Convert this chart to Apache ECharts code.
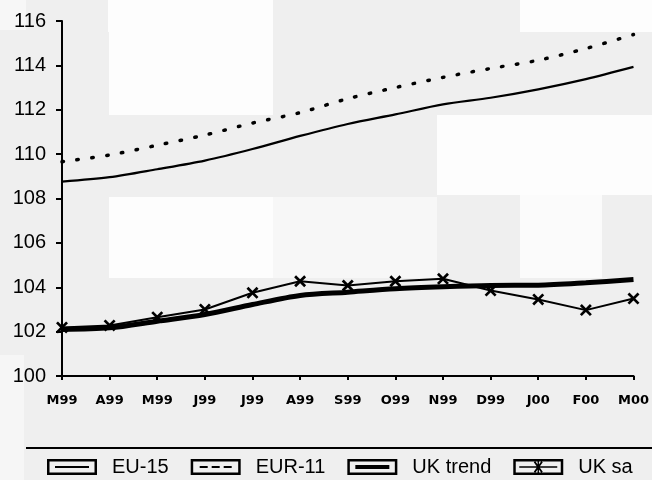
<!DOCTYPE html>
<html>
<head>
<meta charset="utf-8">
<script src="https://cdn.jsdelivr.net/npm/echarts@6/dist/echarts.min.js"></script>
<style>
  html, body { margin: 0; padding: 0; background: #efefef; }
  #chart { width: 652px; height: 480px; }
</style>
</head>
<body>
<div id="chart"></div>
<script>
// ---- data ----
const categories = ['M99', 'A99', 'M99', 'J99', 'J99', 'A99', 'S99', 'O99', 'N99', 'D99', 'J00', 'F00', 'M00'];
const eu15    = [108.76, 108.96, 109.32, 109.71, 110.23, 110.82, 111.36, 111.79, 112.24, 112.54, 112.92, 113.38, 113.93];
const eur11   = [109.66, 109.96, 110.40, 110.86, 111.40, 111.87, 112.50, 113.00, 113.46, 113.86, 114.23, 114.76, 115.39];
const ukTrend = [102.10, 102.17, 102.47, 102.77, 103.22, 103.63, 103.78, 103.93, 104.02, 104.08, 104.09, 104.20, 104.35];
const ukSa    = [102.19, 102.28, 102.65, 103.00, 103.75, 104.27, 104.08, 104.27, 104.38, 103.85, 103.45, 102.97, 103.49];
const yTicks  = { min: 100, max: 116, interval: 2 };
const seriesNames = ['EU-15', 'EUR-11', 'UK trend', 'UK sa'];

// ---- legend icons (box with line sample inside) ----
const frame = 'M0,0 L50,0 L50,16 L0,16 Z M2.5,2.5 L2.5,13.5 L47.5,13.5 L47.5,2.5 Z ';
const icons = {
  'EU-15': 'path://' + frame + 'M8,7 L42,7 L42,9 L8,9 Z',
  'EUR-11': 'path://' + frame + 'M9,7 L17,7 L17,9 L9,9 Z M21,7 L29,7 L29,9 L21,9 Z M33,7 L41,7 L41,9 L33,9 Z',
  'UK trend': 'path://' + frame + 'M8,6 L42,6 L42,10 L8,10 Z',
  'UK sa': 'path://' + frame + 'M6,7.2 L44,7.2 L44,8.8 L6,8.8 Z M20.5,3.2 L22,2.2 L29.5,12.8 L28,13.8 Z M28,2.2 L29.5,3.2 L22,13.8 L20.5,12.8 Z M24.3,2 L25.7,2 L25.7,14 L24.3,14 Z'
};
const crossSymbol = 'path://M0,1.6 L1.6,0 L10,8.4 L8.4,10 Z M8.4,0 L10,1.6 L1.6,10 L0,8.4 Z';

const chart = echarts.init(document.getElementById('chart'), null, { renderer: 'canvas' });

const patch = (x, y, w, h, c) => ({
  type: 'rect', z: -10, silent: true,
  shape: { x: x, y: y, width: w, height: h },
  style: { fill: c }
});

const option = {
  backgroundColor: '#efefef',
  animation: false,
  textStyle: { fontFamily: 'Liberation Sans, Arial, sans-serif', color: '#000' },
  graphic: [
    patch(109, 0, 164, 115, '#fdfdfd'),
    patch(108, 0, 84, 32, '#fdfdfd'),
    patch(520, 0, 132, 32, '#fdfdfd'),
    patch(437, 115, 215, 80, '#fdfdfd'),
    patch(109, 197, 164, 81, '#fdfdfd'),
    patch(273, 197, 164, 81, '#f7f7f7'),
    patch(520, 195, 82, 83, '#fbfbfb'),
    patch(0, 0, 26, 30, '#f7f7f7'),
    patch(0, 355, 24, 125, '#f6f6f6'),
    {
      type: 'line', z: 5, silent: true,
      shape: { x1: 26, y1: 448, x2: 652, y2: 448 },
      style: { stroke: '#000', lineWidth: 2 }
    }
  ],
  grid: { left: 62, right: 14, top: 21, bottom: 104, containLabel: false },
  legend: {
    left: 47, top: 457, padding: 0,
    itemWidth: 50, itemHeight: 16, itemGap: 22,
    itemStyle: { color: '#000', borderWidth: 0 },
    textStyle: { fontSize: 20, color: '#000', fontFamily: 'Liberation Sans, Arial, sans-serif', padding: [0, 0, 0, 10] },
    data: seriesNames.map(n => ({ name: n, icon: icons[n] }))
  },
  xAxis: {
    type: 'category',
    data: categories,
    boundaryGap: false,
    axisLine: { lineStyle: { color: '#000', width: 2 } },
    axisTick: { show: true, length: 4, lineStyle: { color: '#000', width: 2 } },
    axisLabel: { fontSize: 13, fontWeight: 'bold', color: '#000', margin: 18, interval: 0, fontFamily: 'DejaVu Sans, sans-serif' },
    splitLine: { show: false }
  },
  yAxis: {
    type: 'value',
    min: yTicks.min, max: yTicks.max, interval: yTicks.interval,
    axisLine: { show: true, lineStyle: { color: '#000', width: 2 } },
    axisTick: { show: true, length: 6, lineStyle: { color: '#000', width: 2 } },
    axisLabel: { fontSize: 20, color: '#000', margin: 16 },
    splitLine: { show: false }
  },
  series: [
    {
      name: 'EU-15', type: 'line', data: eu15, smooth: 0.3,
      symbol: 'none', color: '#000',
      lineStyle: { color: '#000', width: 2.2 }
    },
    {
      name: 'EUR-11', type: 'line', data: eur11, smooth: 0.3,
      symbol: 'none', color: '#000',
      lineStyle: { color: '#000', width: 3.5, type: [1.5, 13.5], cap: 'round' }
    },
    {
      name: 'UK trend', type: 'line', data: ukTrend, smooth: 0.3,
      symbol: 'none', color: '#000',
      lineStyle: { color: '#000', width: 5 }
    },
    {
      name: 'UK sa', type: 'line', data: ukSa,
      symbol: crossSymbol, symbolSize: 12, showAllSymbol: true, color: '#000',
      itemStyle: { color: '#000', borderWidth: 0 },
      lineStyle: { color: '#000', width: 2 }
    }
  ]
};
chart.setOption(option);
</script>
</body>
</html>
